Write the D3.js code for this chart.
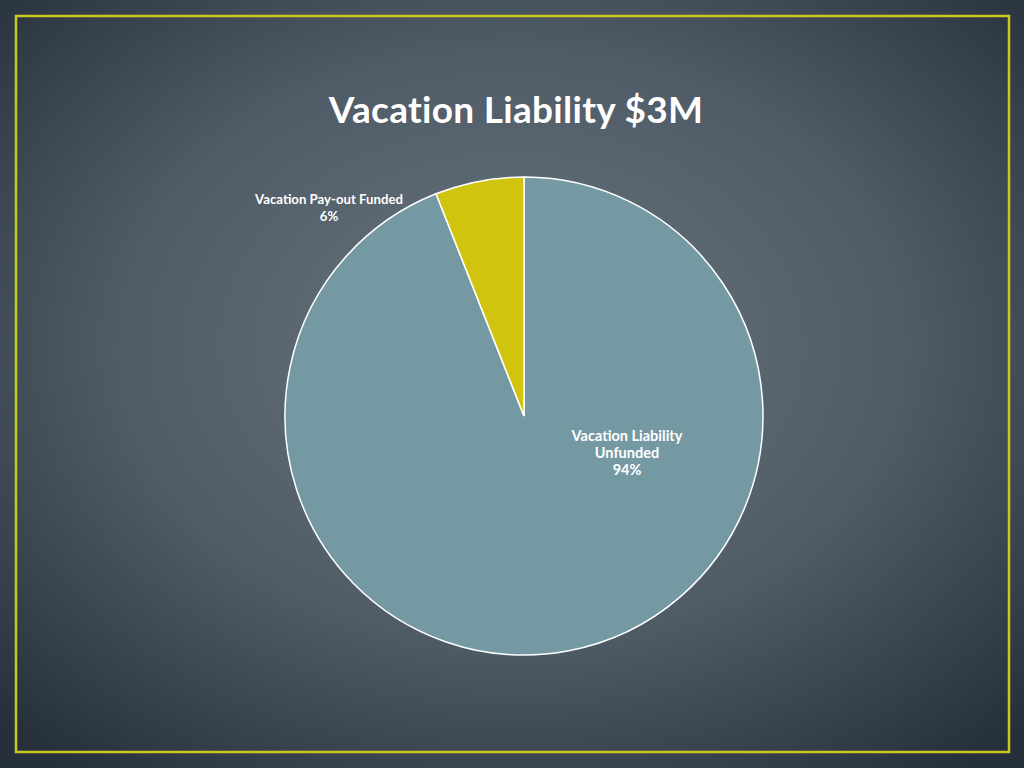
<!DOCTYPE html>
<html><head><meta charset="utf-8">
<script src="https://cdn.jsdelivr.net/npm/d3@7"></script>
<style>html,body{margin:0;padding:0;background:#2c3742;}svg{display:block;}</style>
</head><body>
<svg id="chart" width="1024" height="768"></svg>
<script>
const title = "Vacation Liability $3M";
const categories = ["Vacation Liability Unfunded", "Vacation Pay-out Funded"];
const values = [94, 6];
const labelLines = [["Vacation Liability", "Unfunded", "94%"], ["Vacation Pay-out Funded", "6%"]];
const colors = ["#7599a3", "#d1c40e"];

const svg = d3.select("#chart");
const defs = svg.append("defs");
const grad = defs.append("radialGradient").attr("id", "bg")
  .attr("cx", "50%").attr("cy", "45%").attr("r", "70%");
grad.append("stop").attr("offset", "0%").attr("stop-color", "#68747d");
grad.append("stop").attr("offset", "55%").attr("stop-color", "#4f5b66");
grad.append("stop").attr("offset", "100%").attr("stop-color", "#25303b");
svg.append("rect").attr("width", 1024).attr("height", 768).attr("fill", "url(#bg)");

svg.append("rect").attr("x", 16).attr("y", 16).attr("width", 993).attr("height", 736)
  .attr("fill", "none").attr("stroke", "#c9c81e").attr("stroke-width", 2.5);

const font = "Lato, 'Open Sans', sans-serif";
svg.append("text").attr("x", 516).attr("y", 123).attr("text-anchor", "middle")
  .attr("fill", "#ffffff").attr("font-family", font).attr("font-weight", "bold")
  .attr("font-size", 37).attr("letter-spacing", 0.3).text(title);

const cx = 524, cy = 416, r = 239;
const pie = d3.pie().sort(null).value(d => d)(values);
const arc = d3.arc().innerRadius(0).outerRadius(r);
const g = svg.append("g").attr("transform", `translate(${cx},${cy})`);
g.selectAll("path").data(pie).join("path")
  .attr("d", arc).attr("fill", (d, i) => colors[i])
  .attr("stroke", "#ffffff").attr("stroke-width", 1.5);

// labels
const labelPos = [[103, 25], [-195, -212]];
const labelSize = [14.5, 13.2];
labelLines.forEach((lines, i) => {
  const t = g.append("text").attr("text-anchor", "middle").attr("fill", "#ffffff")
    .attr("font-family", font).attr("font-weight", "bold").attr("font-size", labelSize[i]);
  lines.forEach((ln, j) => {
    t.append("tspan").attr("x", labelPos[i][0]).attr("y", labelPos[i][1] + j * 17).text(ln);
  });
});
</script>
</body></html>
